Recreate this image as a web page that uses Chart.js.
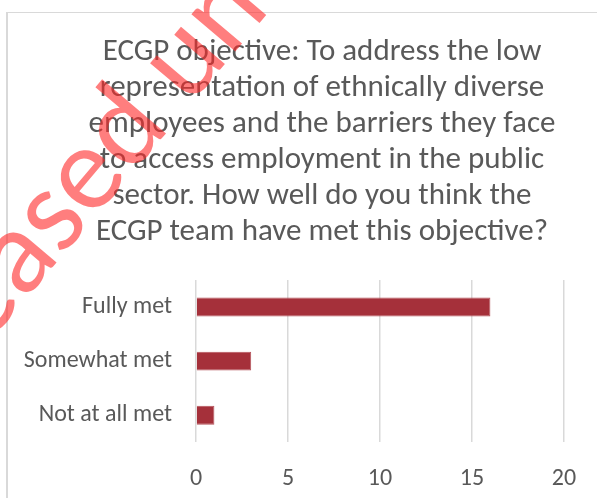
<!DOCTYPE html>
<html>
<head>
<meta charset="utf-8">
<script src="https://cdn.jsdelivr.net/npm/chart.js@4"></script>
<style>
  html, body { margin: 0; padding: 0; background: #fff; overflow: hidden; }
  #frame {
    position: absolute; left: 6px; top: 12px; width: 700px; height: 600px;
    border-top: 1px solid #d9d9d9; border-left: 2px solid #d9d9d9;
  }
  #wrap { position: absolute; left: 0; top: 0; width: 644px; height: 515px; }
</style>
</head>
<body>
<div id="frame"></div>
<div id="wrap"><canvas id="chartcanvas"></canvas></div>
<script>
const categories = ['Fully met', 'Somewhat met', 'Not at all met'];
const responses = [16, 3, 1];
const xTicks = [0, 5, 10, 15, 20];
const titleLines = [
  'ECGP objective: To address the low',
  'representation of ethnically diverse',
  'employees and the barriers they face',
  'to access employment in the public',
  'sector. How well do you think the',
  'ECGP team have met this objective?'
];
const stampText = 'Released under';

const fontFamily = "Carlito, Calibri, Lato, sans-serif";
const textGrey = '#595959';

// red release stamp running up across the top-left corner:
// the "a" of "Released" sits low on the left, the "u" of "under" near the top
const stampPlugin = {
  id: 'stamp',
  afterDraw(chart) {
    const c = chart.ctx;
    const from = { x: 20, y: 260 };
    const to = { x: 187, y: 63 };
    c.save();
    c.font = '100px ' + fontFamily;
    const w = s => c.measureText(s).width;
    const aMid = w('Rele') + w('a') / 2;
    const uMid = w('Released ') + w('u') / 2;
    const dist = Math.hypot(to.x - from.x, to.y - from.y);
    const size = 100 * dist / (uMid - aMid);
    c.font = size.toFixed(1) + 'px ' + fontFamily;
    const k = size / 100;
    const xHalf = c.measureText('x').actualBoundingBoxAscent / 2;
    c.fillStyle = 'rgba(255, 40, 40, 0.6)';
    c.textBaseline = 'alphabetic';
    c.translate(from.x, from.y);
    c.rotate(Math.atan2(to.y - from.y, to.x - from.x));
    c.fillText(stampText, -aMid * k, xHalf);
    c.restore();
  }
};

const canvas = document.getElementById('chartcanvas');
const ctx = canvas.getContext('2d');

const barConfig = {
  type: 'bar',
  data: {
    labels: categories,
    datasets: [{
      data: responses,
      backgroundColor: '#a5303a',
      borderColor: '#b5525a',
      borderWidth: 1,
      barPercentage: 0.7,
      categoryPercentage: 0.5
    }]
  },
  options: {
    indexAxis: 'y',
    responsive: true,
    maintainAspectRatio: false,
    animation: { duration: 0 },
    layout: { padding: { top: 22, left: 0, right: 0, bottom: 0 } },
    scales: {
      x: {
        min: 0,
        max: 20,
        afterBuildTicks(scale) {
          scale.ticks = xTicks.map(v => ({ value: v }));
        },
        grid: { color: '#d9d9d9', lineWidth: 1.5, drawTicks: false },
        border: { display: false },
        ticks: {
          color: textGrey,
          padding: 22,
          font: { family: fontFamily, size: 24 }
        }
      },
      y: {
        grid: { display: false, drawTicks: false },
        border: { display: false },
        ticks: {
          color: textGrey,
          padding: 24,
          font: { family: fontFamily, size: 24 }
        },
        afterFit(scale) { scale.width = 196; }
      },
      // empty right-hand gutter so the title stays centred on the full frame
      gutter: {
        type: 'linear',
        position: 'right',
        grid: { display: false, drawTicks: false },
        border: { display: false },
        ticks: { display: false },
        afterFit(scale) { scale.width = 80; }
      }
    },
    plugins: {
      legend: { display: false },
      tooltip: { enabled: false },
      title: {
        display: true,
        text: titleLines,
        color: textGrey,
        font: { family: fontFamily, size: 31, weight: 'normal', lineHeight: '36px' },
        padding: { top: 12, bottom: 30 }
      }
    }
  },
  plugins: [stampPlugin]
};

const barChart = new Chart(ctx, barConfig);
</script>
</body>
</html>
